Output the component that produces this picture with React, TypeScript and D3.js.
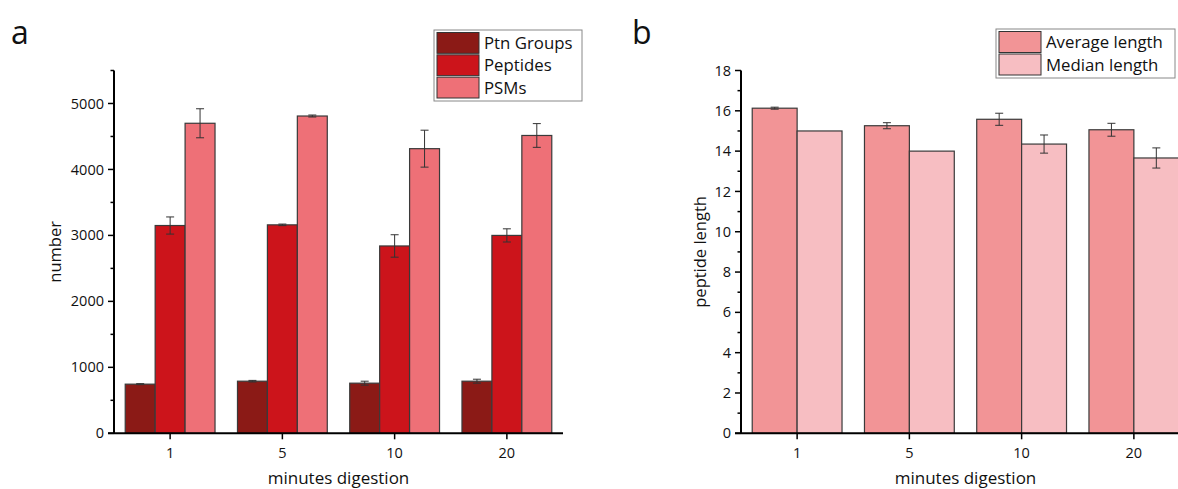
import React from 'react'
import * as d3 from 'd3'

// shared categories
const minutes = ['1', '5', '10', '20']

// panel a
const seriesA = ['Ptn Groups', 'Peptides', 'PSMs']
const ptnGroups = [745, 790, 760, 790]
const ptnGroupsErr = [8, 12, 30, 30]
const peptides = [3150, 3160, 2840, 3000]
const peptidesErr = [130, 12, 170, 100]
const psms = [4700, 4810, 4315, 4515]
const psmsErr = [220, 15, 280, 180]
const ticksA = [0, 1000, 2000, 3000, 4000, 5000]

// panel b
const seriesB = ['Average length', 'Median length']
const avgLength = [16.13, 15.26, 15.58, 15.06]
const avgLengthErr = [0.05, 0.15, 0.3, 0.32]
const medLength = [15.0, 14.0, 14.35, 13.66]
const medLengthErr = [0, 0, 0.45, 0.5]
const ticksB = [0, 2, 4, 6, 8, 10, 12, 14, 16, 18]

const FONT = '"Open Sans", sans-serif'

type Series = { name: string, color: string, values: number[], errs: number[] }

type PanelProps = {
    letter: string
    letterX: number
    yLabel: string
    yLabelX: number
    x0: number
    x1: number
    xAxisStart: number
    xAxisEnd: number
    yMax: number
    ticks: number[]
    minorStep: number
    series: Series[]
    legend: { x: number, y: number, w: number, h: number }
}

const Panel = (p: PanelProps) => {
    const top = 70.5
    const bottom = 433.3
    const y = d3.scaleLinear().domain([0, p.yMax]).range([bottom, top])
    const x = d3.scaleBand<string>().domain(minutes).range([p.x0, p.x1])
        .paddingInner(0.2).paddingOuter(0.1)
    const xs = d3.scaleBand<string>().domain(p.series.map(s => s.name))
        .range([0, x.bandwidth()])
    const minor = d3.range(p.minorStep, p.yMax + 0.001, p.minorStep * 2)
    const rowH = (p.legend.h - 4) / p.series.length

    return (
        <g fontFamily={FONT}>
            <text x={p.letterX} y={44} fontSize={32} fill="#111">{p.letter}</text>

            {/* bars */}
            {p.series.map(s => (
                <g key={s.name}>
                    {minutes.map((m, i) => (
                        <rect key={m}
                            x={x(m)! + xs(s.name)!}
                            y={y(s.values[i])}
                            width={xs.bandwidth()}
                            height={bottom - y(s.values[i])}
                            fill={s.color}
                            stroke="#3a3a3a"
                            strokeWidth={1.2} />
                    ))}
                </g>
            ))}

            {/* error bars */}
            {p.series.map(s => (
                <g key={s.name + '-err'} stroke="#333" strokeWidth={1}>
                    {minutes.map((m, i) => {
                        if (!s.errs[i]) return null
                        const cx = x(m)! + xs(s.name)! + xs.bandwidth() / 2
                        const y1 = y(s.values[i] + s.errs[i])
                        const y2 = y(s.values[i] - s.errs[i])
                        return (
                            <g key={m}>
                                <line x1={cx} x2={cx} y1={y1} y2={y2} />
                                <line x1={cx - 4} x2={cx + 4} y1={y1} y2={y1} />
                                <line x1={cx - 4} x2={cx + 4} y1={y2} y2={y2} />
                            </g>
                        )
                    })}
                </g>
            ))}

            {/* y axis */}
            <line x1={p.x0} x2={p.x0} y1={top} y2={bottom} stroke="#000" strokeWidth={2} />
            {p.ticks.map(t => (
                <g key={t}>
                    <line x1={p.x0 - 6} x2={p.x0} y1={y(t)} y2={y(t)} stroke="#000" strokeWidth={1.5} />
                    <text x={p.x0 - 10} y={y(t)} dy="0.35em" textAnchor="end" fontSize={14.5} fill="#111">{t}</text>
                </g>
            ))}
            {minor.map(t => (
                <line key={t} x1={p.x0 - 3.5} x2={p.x0} y1={y(t)} y2={y(t)} stroke="#000" strokeWidth={1.5} />
            ))}
            <text transform={`translate(${p.yLabelX},${(top + bottom) / 2}) rotate(-90)`}
                textAnchor="middle" dy="0.35em" fontSize={16.5} fill="#111">{p.yLabel}</text>

            {/* x axis */}
            <line x1={p.xAxisStart} x2={p.xAxisEnd} y1={bottom} y2={bottom} stroke="#000" strokeWidth={2} />
            {minutes.map(m => {
                const cx = x(m)! + x.bandwidth() / 2
                return (
                    <g key={m}>
                        <line x1={cx} x2={cx} y1={bottom} y2={bottom + 6} stroke="#000" strokeWidth={1.5} />
                        <text x={cx} y={bottom + 25} textAnchor="middle" fontSize={14.5} fill="#111">{m}</text>
                    </g>
                )
            })}
            <text x={(p.x0 + p.x1) / 2} y={bottom + 51} textAnchor="middle" fontSize={17} fill="#111">minutes digestion</text>

            {/* legend */}
            <rect x={p.legend.x} y={p.legend.y} width={p.legend.w} height={p.legend.h}
                fill="#fff" stroke="#888" strokeWidth={1} />
            {p.series.map((s, i) => (
                <g key={s.name + '-leg'}>
                    <rect x={p.legend.x + 3} y={p.legend.y + 2.5 + i * rowH} width={42} height={rowH - 1.5}
                        fill={s.color} stroke="#333" strokeWidth={1} />
                    <text x={p.legend.x + 50} y={p.legend.y + 2 + (i + 0.5) * rowH} dy="0.35em"
                        fontSize={16.8} fill="#111">{s.name}</text>
                </g>
            ))}
        </g>
    )
}

const App = () => {
    const a: Series[] = [
        { name: seriesA[0], color: '#8b1a16', values: ptnGroups, errs: ptnGroupsErr },
        { name: seriesA[1], color: '#cc141b', values: peptides, errs: peptidesErr },
        { name: seriesA[2], color: '#ee7077', values: psms, errs: psmsErr },
    ]
    const b: Series[] = [
        { name: seriesB[0], color: '#f29496', values: avgLength, errs: avgLengthErr },
        { name: seriesB[1], color: '#f7bec2', values: medLength, errs: medLengthErr },
    ]
    return (
        <svg width={1178} height={489} style={{ position: 'absolute', left: 0, top: 0, background: '#fff' }}>
            <Panel letter="a" letterX={11} yLabel="number" yLabelX={55.5}
                x0={114} x1={563} xAxisStart={108} xAxisEnd={563}
                yMax={5500} ticks={ticksA} minorStep={500} series={a}
                legend={{ x: 434, y: 30, w: 148, h: 71 }} />
            <Panel letter="b" letterX={632} yLabel="peptide length" yLabelX={700.5}
                x0={741} x1={1190} xAxisStart={735} xAxisEnd={1190}
                yMax={18} ticks={ticksB} minorStep={1} series={b}
                legend={{ x: 996, y: 29, w: 179, h: 49 }} />
        </svg>
    )
}

export default App
